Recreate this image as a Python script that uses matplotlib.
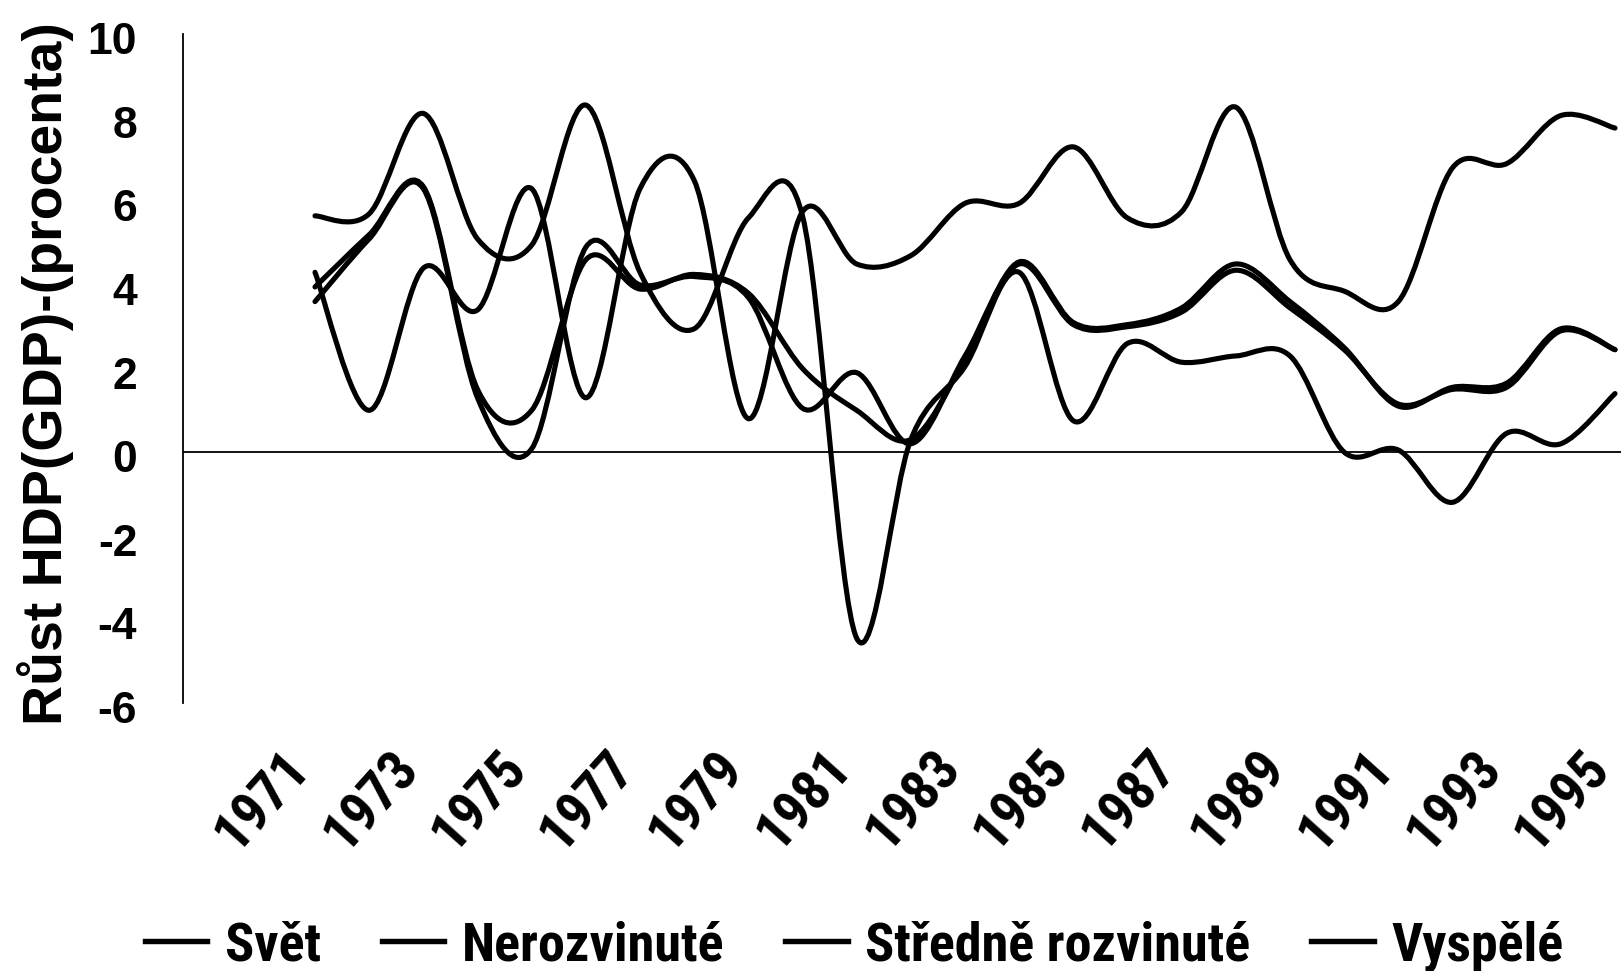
import numpy as np
import matplotlib
matplotlib.use('Agg')
import matplotlib.pyplot as plt
from matplotlib import font_manager
from matplotlib.path import Path
from matplotlib.patches import PathPatch
from matplotlib.lines import Line2D
from matplotlib.transforms import ScaledTranslation

# data (GDP growth, %)
years = np.arange(1971, 1996)
svet = [3.95, 5.2, 6.35, 1.5, 1.0, 4.6, 3.9, 4.25, 3.8, 2.0, 1.0, 0.3, 2.2,
        4.55, 3.1, 3.05, 3.45, 4.5, 3.6, 2.5, 1.1, 1.55, 1.65, 2.95, 2.45]
nerozvinute = [4.3, 1.0, 4.4, 3.4, 6.3, 1.3, 6.3, 6.5, 0.8, 5.75, 4.5, 4.7, 5.95,
               5.95, 7.3, 5.6, 5.75, 8.25, 4.6, 3.85, 3.6, 6.8, 6.9, 8.05, 7.75]
stredne = [5.65, 5.7, 8.1, 5.1, 4.95, 8.3, 4.3, 2.95, 5.6, 5.65, -4.45, 0.3, 2.05,
           4.3, 0.75, 2.6, 2.15, 2.3, 2.3, 0.0, 0.05, -1.2, 0.45, 0.2, 1.4]
vyspele = [3.6, 5.1, 6.3, 1.3, 0.08, 4.9, 4.0, 4.2, 3.7, 1.05, 1.9, 0.2, 2.3,
           4.5, 3.05, 3.0, 3.35, 4.35, 3.45, 2.45, 1.15, 1.5, 1.55, 2.9, 2.45]
series_names = ['Svět', 'Nerozvinuté', 'Středně rozvinuté', 'Vyspělé']
tick_years = list(range(1971, 1996, 2))
yticks = list(range(-6, 11, 2))


def pick_font(names):
    for n in names:
        try:
            font_manager.findfont(font_manager.FontProperties(family=n, weight='bold'),
                                  fallback_to_default=False)
            return n
        except Exception:
            pass
    return 'DejaVu Sans'


REG = pick_font(['Liberation Sans', 'Arial'])
NARROW = pick_font(['Roboto Condensed', 'Liberation Sans Narrow', 'Liberation Sans'])


def smooth_path(x, y):
    # excel-like smoothed line: catmull-rom as cubic bezier
    x = np.asarray(x, float)
    y = np.asarray(y, float)
    n = len(x)
    verts = [(x[0], y[0])]
    codes = [Path.MOVETO]
    for i in range(n - 1):
        a = i - 1 if i > 0 else i
        d = i + 2 if i + 2 < n else i + 1
        c1 = (x[i] + (x[i + 1] - x[a]) / 6, y[i] + (y[i + 1] - y[a]) / 6)
        c2 = (x[i + 1] - (x[d] - x[i]) / 6, y[i + 1] - (y[d] - y[i]) / 6)
        verts += [c1, c2, (x[i + 1], y[i + 1])]
        codes += [Path.CURVE4] * 3
    return Path(verts, codes)


W, H = 1621, 971
fig = plt.figure(figsize=(W / 100, H / 100), dpi=100)
x0, x1, ytop, ybot = 183, 1621, 34, 703
ax = fig.add_axes([x0 / W, 1 - ybot / H, (x1 - x0) / W, (ybot - ytop) / H])

px_year = (1615 - 315) / 24.0
ax.set_xlim(1971 - (315 - x0) / px_year, 1971 + (x1 - 315) / px_year)
ax.set_ylim(-6, 10)

LW = 3.7
for vals in [svet, nerozvinute, stredne, vyspele]:
    ax.add_patch(PathPatch(smooth_path(years, vals), fill=False, edgecolor='black',
                           lw=LW, capstyle='round', joinstyle='round'))

ax.axhline(0, color='black', lw=1.3)
for s in ['top', 'right', 'bottom']:
    ax.spines[s].set_visible(False)
ax.spines['left'].set_linewidth(1.3)

ax.set_yticks(yticks)
ax.set_yticklabels([str(v) for v in yticks], fontfamily=REG, fontweight='bold', fontsize=32)
ax.tick_params(axis='y', length=0, pad=33)
for lab in ax.get_yticklabels():
    lab.set_transform(lab.get_transform() + ScaledTranslation(0, -4 / 100, fig.dpi_scale_trans))

ax.set_xticks(tick_years)
ax.set_xticklabels([str(v) for v in tick_years], fontfamily=NARROW, fontweight='bold',
                   fontsize=40, rotation=48, ha='right', va='center',
                   rotation_mode='anchor')
ax.tick_params(axis='x', length=0, pad=40)
for lab in ax.get_xticklabels():
    lab.set_transform(lab.get_transform() + ScaledTranslation(-14 / 100, 0, fig.dpi_scale_trans))

fig.text(46 / W, 1 - 374 / H, 'Růst HDP(GDP)-(procenta)', rotation=90,
         ha='center', va='center', rotation_mode='anchor',
         fontfamily=REG, fontweight='bold', fontsize=40)

handles = [Line2D([], [], color='black', lw=3.9) for _ in series_names]
fig.legend(handles, series_names, loc='center left', bbox_to_anchor=(145 / W, 1 - 946 / H),
           ncol=4, frameon=False, borderpad=0, borderaxespad=0,
           handlelength=1.15, handletextpad=0.33, columnspacing=1.12,
           prop=font_manager.FontProperties(family=NARROW, weight='bold', size=39))

fig.savefig('out.png', dpi=100)
